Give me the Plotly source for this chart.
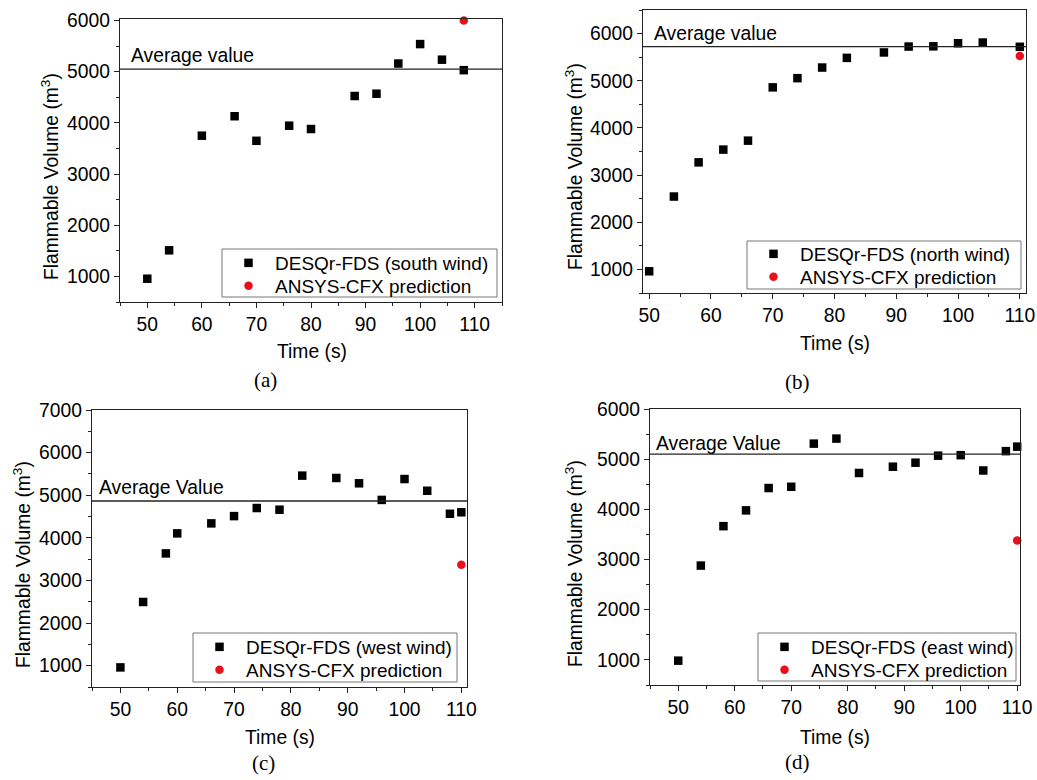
import plotly.graph_objects as go

# ---- data -------------------------------------------------------------
# (a) south wind
t_south = [50, 54, 60, 66, 70, 76, 80, 88, 92, 96, 100, 104, 108]
v_south = [955, 1510, 3750, 4130, 3650, 3945, 3880, 4525, 4570, 5160, 5540, 5235, 5030]
cfx_south_t = [108]
cfx_south_v = [6000]
avg_south = 5050

# (b) north wind
t_north = [50, 54, 58, 62, 66, 70, 74, 78, 82, 88, 92, 96, 100, 104, 110]
v_north = [960, 2545, 3270, 3540, 3730, 4860, 5055, 5280, 5485, 5600, 5725, 5730, 5795, 5810, 5720]
cfx_north_t = [110]
cfx_north_v = [5525]
avg_north = 5725

# (c) west wind
t_west = [50, 54, 58, 60, 66, 70, 74, 78, 82, 88, 92, 96, 100, 104, 108, 110]
v_west = [960, 2495, 3635, 4105, 4340, 4510, 4700, 4660, 5460, 5405, 5280, 4890, 5380, 5105, 4565, 4600]
cfx_west_t = [110]
cfx_west_v = [3370]
avg_west = 4865

# (d) east wind
t_east = [50, 54, 58, 62, 66, 70, 74, 78, 82, 88, 92, 96, 100, 104, 108, 110]
v_east = [985, 2880, 3665, 3980, 4425, 4450, 5310, 5410, 4725, 4850, 4930, 5070, 5080, 4775, 5160, 5250]
cfx_east_t = [110]
cfx_east_v = [3380]
avg_east = 5100

W, H = 1037, 780
SANS = "Liberation Sans, Arial, sans-serif"
SERIF = "Liberation Serif, Times New Roman, serif"
FS = 19.3
LEG_FS = 19

# panel layout in pixels: plot box (left, right, top, bottom), legend box, legend rows
panels = [
    dict(box=(120, 502, 19, 302), xr=[45, 115], yr=[500, 6030],
         t=t_south, v=v_south, ct=cfx_south_t, cv=cfx_south_v, avg=avg_south,
         name="DESQr-FDS (south wind)", avg_text="Average value", avg_dx=9, avg_dy=1.5,
         leg_box=(222, 497, 249, 297), rows=(263, 286),
         ytitle=(50, 177), xtitle=(312, 352), cap="(a)", cap_xy=(265, 380)),
    dict(box=(643, 1026, 10, 293), xr=[49, 111], yr=[500, 6500],
         t=t_north, v=v_north, ct=cfx_north_t, cv=cfx_north_v, avg=avg_north,
         name="DESQr-FDS (north wind)", avg_text="Average value", avg_dx=9, avg_dy=0.5,
         leg_box=(747, 1021, 241, 289), rows=(254, 277),
         ytitle=(574, 167), xtitle=(835, 343), cap="(b)", cap_xy=(797, 382)),
    dict(box=(92, 467, 410, 687), xr=[45, 111], yr=[500, 7000],
         t=t_west, v=v_west, ct=cfx_west_t, cv=cfx_west_v, avg=avg_west,
         name="DESQr-FDS (west wind)", avg_text="Average Value", avg_dx=5, avg_dy=0.5,
         leg_box=(193, 457, 633, 682), rows=(647, 670),
         ytitle=(22, 565), xtitle=(280, 737), cap="(c)", cap_xy=(263, 763)),
    dict(box=(650, 1020, 409, 685), xr=[45, 110.5], yr=[500, 6000],
         t=t_east, v=v_east, ct=cfx_east_t, cv=cfx_east_v, avg=avg_east,
         name="DESQr-FDS (east wind)", avg_text="Average Value", avg_dx=4, avg_dy=-1.5,
         leg_box=(758, 1016, 633, 681), rows=(647, 670),
         ytitle=(574, 564), xtitle=(835, 737), cap="(d)", cap_xy=(797, 762)),
]

fig = go.Figure()
layout = dict(
    width=W, height=H,
    margin=dict(l=0, r=0, t=0, b=0, autoexpand=False),
    paper_bgcolor="white", plot_bgcolor="white",
    font=dict(family=SANS, size=FS, color="black"),
    showlegend=True,
)
shapes, annotations = [], []
AX = "#222"

for i, p in enumerate(panels):
    k = "" if i == 0 else str(i + 1)
    xa, ya = "x" + k, "y" + k
    leg_sq = "legend" if i == 0 else "legend" + str(2 * i + 1)
    leg_ci = "legend" + str(2 * i + 2)
    l, r, t, b = p["box"]

    fig.add_trace(go.Scatter(
        x=p["t"], y=p["v"], mode="markers", name=p["name"],
        marker=dict(symbol="square", size=8.5, color="black"),
        xaxis=xa, yaxis=ya, legend=leg_sq, cliponaxis=False))
    fig.add_trace(go.Scatter(
        x=p["ct"], y=p["cv"], mode="markers", name="ANSYS-CFX prediction",
        marker=dict(symbol="circle", size=8.5, color="#e8101a"),
        xaxis=xa, yaxis=ya, legend=leg_ci, cliponaxis=False))

    axis_common = dict(
        showline=True, linecolor=AX, linewidth=1.3, mirror=True,
        ticks="outside", ticklen=5, tickwidth=1.2, tickcolor=AX,
        showgrid=False, zeroline=False,
        tickfont=dict(family=SANS, size=FS, color="black"),
    )
    layout["xaxis" + k] = dict(
        axis_common, domain=[l / W, r / W], range=p["xr"], anchor=ya,
        tickmode="linear", tick0=50, dtick=10,
        minor=dict(ticks="outside", ticklen=3, dtick=5, tick0=45, tickcolor=AX),
    )
    layout["yaxis" + k] = dict(
        axis_common, domain=[1 - b / H, 1 - t / H], range=p["yr"], anchor=xa,
        tickmode="linear", tick0=1000, dtick=1000,
        minor=dict(ticks="outside", ticklen=3, dtick=500, tick0=500, tickcolor=AX),
    )

    # average line across the panel
    shapes.append(dict(type="line", xref=xa + " domain", yref=ya,
                       x0=0, x1=1, y0=p["avg"], y1=p["avg"],
                       line=dict(color=AX, width=1.3)))
    annotations.append(dict(text=p["avg_text"], xref=xa + " domain", yref=ya,
                            x=0, y=p["avg"], xanchor="left", yanchor="bottom",
                            xshift=p["avg_dx"], yshift=p["avg_dy"], showarrow=False,
                            font=dict(family=SANS, size=FS, color="black")))

    # axis titles
    annotations.append(dict(text="Flammable Volume (m<sup>3</sup>)", textangle=-90,
                            xref="paper", yref="paper",
                            x=p["ytitle"][0] / W, y=1 - p["ytitle"][1] / H,
                            xanchor="center", yanchor="middle", showarrow=False,
                            font=dict(family=SANS, size=FS, color="black")))
    annotations.append(dict(text="Time (s)", xref="paper", yref="paper",
                            x=p["xtitle"][0] / W, y=1 - p["xtitle"][1] / H,
                            xanchor="center", yanchor="middle", showarrow=False,
                            font=dict(family=SANS, size=FS, color="black")))
    # panel caption
    annotations.append(dict(text=p["cap"], xref="paper", yref="paper",
                            x=p["cap_xy"][0] / W, y=1 - p["cap_xy"][1] / H,
                            xanchor="center", yanchor="middle", showarrow=False,
                            font=dict(family=SERIF, size=21, color="black")))

    # legend frame shared by the two legend rows
    bl, br, bt, bb = p["leg_box"]
    shapes.append(dict(type="rect", xref="paper", yref="paper",
                       x0=bl / W, x1=br / W, y0=1 - bb / H, y1=1 - bt / H,
                       line=dict(color="#777", width=1), fillcolor="rgba(0,0,0,0)"))
    for leg, row in ((leg_sq, p["rows"][0]), (leg_ci, p["rows"][1])):
        layout[leg] = dict(
            x=bl / W, y=1 - row / H, xref="paper", yref="paper",
            xanchor="left", yanchor="middle",
            bgcolor="rgba(0,0,0,0)", borderwidth=0,
            font=dict(family=SANS, size=LEG_FS, color="black"),
            itemwidth=43,
        )

layout["shapes"] = shapes
layout["annotations"] = annotations
fig.update_layout(**layout)

fig.write_html("out.html")
